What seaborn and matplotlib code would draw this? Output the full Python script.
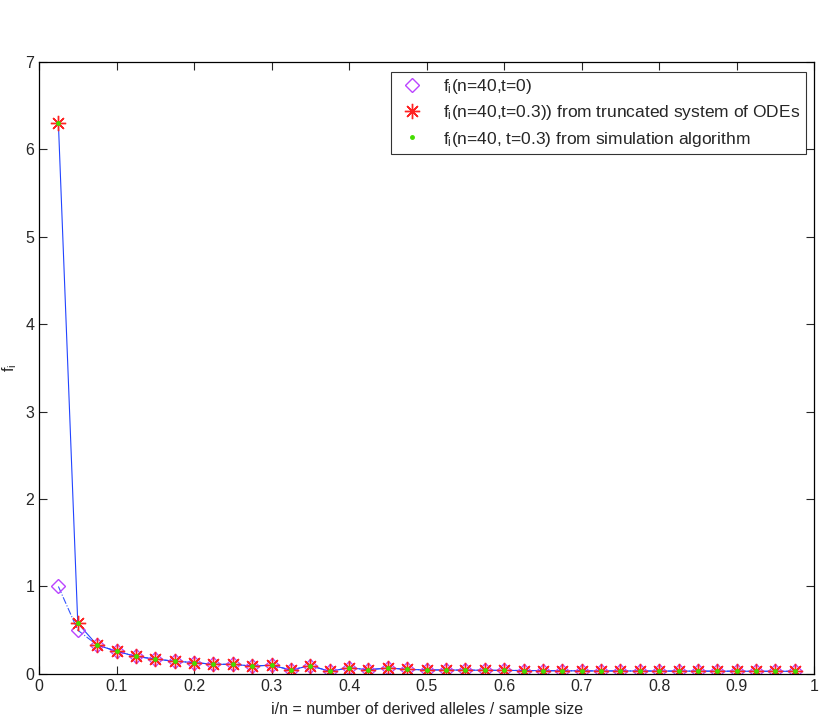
import matplotlib
matplotlib.use('Agg')
import matplotlib.pyplot as plt
import numpy as np
import pandas as pd
import seaborn as sns

# sample size and derived allele counts
n = 40
i_vals = list(range(1, 40))

# f_i at t=0 (diamonds)
f_t0 = [1.00, 0.50, 0.33, 0.26, 0.20, 0.17, 0.145, 0.13, 0.11, 0.11,
        0.09, 0.10, 0.045, 0.095, 0.03, 0.07, 0.048, 0.068, 0.052, 0.046,
        0.045, 0.043, 0.042, 0.040, 0.039, 0.037, 0.036, 0.035, 0.034, 0.034,
        0.033, 0.033, 0.032, 0.032, 0.031, 0.031, 0.030, 0.030, 0.030]

# f_i at t=0.3 from truncated ODE system (stars)
f_ode = [6.30, 0.58, 0.33, 0.26, 0.20, 0.17, 0.145, 0.13, 0.11, 0.11,
         0.09, 0.10, 0.045, 0.095, 0.03, 0.07, 0.048, 0.068, 0.052, 0.046,
         0.045, 0.043, 0.042, 0.040, 0.039, 0.037, 0.036, 0.035, 0.034, 0.034,
         0.033, 0.033, 0.032, 0.032, 0.031, 0.031, 0.030, 0.030, 0.030]

# f_i at t=0.3 from simulation (green dots)
f_sim = [6.30, 0.58, 0.33, 0.26, 0.20, 0.17, 0.145, 0.13, 0.11, 0.11,
         0.09, 0.10, 0.045, 0.095, 0.03, 0.07, 0.048, 0.068, 0.052, 0.046,
         0.045, 0.043, 0.042, 0.040, 0.039, 0.037, 0.036, 0.035, 0.034, 0.034,
         0.033, 0.033, 0.032, 0.032, 0.031, 0.031, 0.030, 0.030, 0.030]

df = pd.DataFrame({
    'x': np.array(i_vals) / n,
    't0': f_t0,
    'ode': f_ode,
    'sim': f_sim,
})

sns.set_style('ticks')
plt.rcParams['font.family'] = ['Liberation Sans', 'DejaVu Sans']
plt.rcParams['mathtext.default'] = 'regular'
plt.rcParams['xtick.direction'] = 'in'
plt.rcParams['ytick.direction'] = 'in'

fig = plt.figure(figsize=(8.3, 7.2), dpi=100)
ax = fig.add_axes([0.047, 0.064, 0.934, 0.850])

# connecting lines
sns.lineplot(data=df, x='x', y='t0', ax=ax, color='#3355ff', lw=0.8,
             linestyle='-.', legend=False)
sns.lineplot(data=df, x='x', y='ode', ax=ax, color='#2244ff', lw=0.8,
             legend=False)

# markers
ax.plot(df['x'], df['t0'], linestyle='none', marker='D', ms=7,
        mfc='none', mec='#bb44ff', mew=1.0,
        label=r'f$_i$(n=40,t=0)')
ax.plot(df['x'], df['ode'], linestyle='none', marker=(8, 2, 0), ms=11,
        mec='#ff2222', mew=1.0,
        label=r'f$_i$(n=40,t=0.3)) from truncated system of ODEs')
ax.plot(df['x'], df['sim'], linestyle='none', marker='.', ms=5,
        color='#44dd00',
        label=r'f$_i$(n=40, t=0.3) from simulation algorithm')

ax.set_xlim(0, 1)
ax.set_ylim(0, 7)
ax.set_xticks(np.arange(0, 1.01, 0.1))
ax.set_xticklabels(['0', '0.1', '0.2', '0.3', '0.4', '0.5', '0.6', '0.7',
                    '0.8', '0.9', '1'])
ax.set_yticks(range(0, 8))
ax.tick_params(top=True, right=True, labelsize=11.5, length=6, width=0.8)
for s in ax.spines.values():
    s.set_linewidth(0.9)
    s.set_color('black')

ax.set_xlabel('i/n = number of derived alleles / sample size', fontsize=11.5,
              labelpad=6)
ax.set_ylabel(r'f$_i$', fontsize=11.5)
ax.yaxis.set_label_coords(-0.026, 0.5)

leg = ax.legend(loc='upper right', bbox_to_anchor=(0.989, 0.984),
                fontsize=12.5, frameon=True, fancybox=False, edgecolor='black',
                borderpad=0.3, handletextpad=0.9, labelspacing=0.42,
                handlelength=1.8, borderaxespad=0)
leg.get_frame().set_linewidth(0.8)

fig.savefig('out.png', dpi=100)
